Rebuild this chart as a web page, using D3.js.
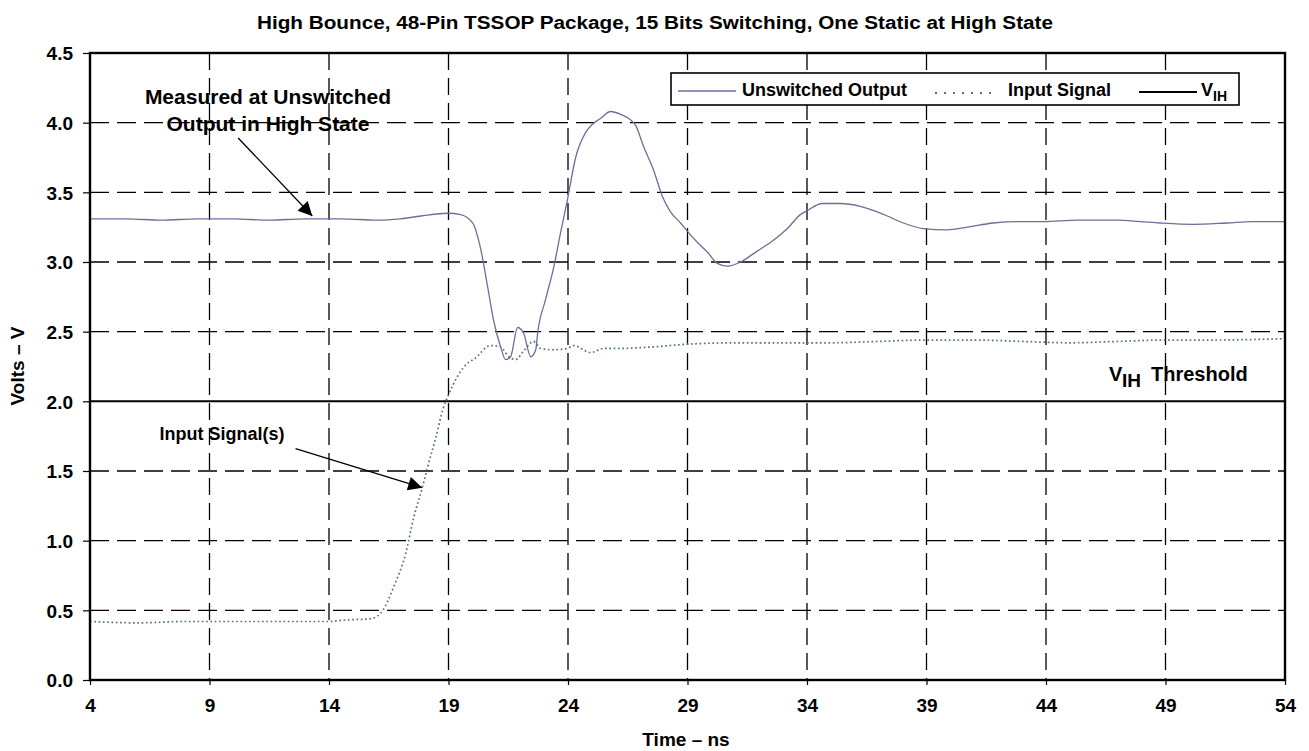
<!DOCTYPE html>
<html>
<head>
<meta charset="utf-8">
<script src="https://cdn.jsdelivr.net/npm/d3@7"></script>
<style>
  html, body { margin: 0; padding: 0; background: #fff; }
  text { font-family: "Liberation Sans", Arial, Helvetica, sans-serif; font-weight: bold; fill: #000; }
</style>
</head>
<body>
<svg id="chart" width="1309" height="751"></svg>
<script>
// ---- Data ----
const outputTimes = [4, 5.5, 7, 8.5, 10, 11.5, 13, 14.5, 16, 17, 17.84, 18.97, 19.51, 20.01, 20.35, 20.64, 20.89, 21.18, 21.39, 21.60, 21.89, 22.14, 22.44, 22.65, 22.73, 23.06, 23.40, 23.69, 23.98, 24.32, 24.74, 25.03, 25.36, 25.78, 26.20, 26.62, 26.83, 27.16, 27.58, 27.95, 28.29, 28.71, 29.00, 29.42, 29.84, 30.25, 30.67, 31.22, 31.93, 32.47, 33.18, 33.72, 34.02, 34.64, 35.40, 36.23, 36.94, 37.36, 38.03, 38.87, 39.87, 40.71, 41.79, 42.80, 43.88, 45.30, 46.98, 47.94, 48.77, 50.15, 51.58, 52.66, 54];
const outputVolts = [3.31, 3.31, 3.30, 3.31, 3.31, 3.30, 3.31, 3.31, 3.30, 3.31, 3.33, 3.35, 3.34, 3.28, 3.09, 2.82, 2.58, 2.39, 2.30, 2.32, 2.53, 2.49, 2.32, 2.37, 2.49, 2.73, 2.96, 3.21, 3.45, 3.75, 3.93, 3.99, 4.03, 4.08, 4.06, 4.02, 3.98, 3.83, 3.66, 3.47, 3.36, 3.28, 3.22, 3.14, 3.07, 2.99, 2.97, 3.00, 3.08, 3.14, 3.24, 3.34, 3.37, 3.42, 3.42, 3.40, 3.36, 3.33, 3.28, 3.24, 3.23, 3.25, 3.28, 3.29, 3.29, 3.30, 3.30, 3.29, 3.28, 3.27, 3.28, 3.29, 3.29];

const inputTimes = [4, 6, 8, 10, 12, 14, 14.62, 15.75, 16.25, 16.71, 17.21, 17.55, 17.92, 18.13, 18.47, 18.76, 19.01, 19.38, 19.84, 20.05, 20.76, 21.18, 21.52, 21.81, 22.14, 22.56, 22.85, 23.40, 23.98, 24.23, 24.95, 25.49, 26.20, 27.5, 29, 31, 33, 35, 37, 39, 41, 43, 45, 47, 49, 51, 54];
const inputVolts = [0.42, 0.41, 0.42, 0.42, 0.42, 0.42, 0.43, 0.44, 0.50, 0.67, 0.91, 1.17, 1.39, 1.53, 1.74, 1.94, 2.05, 2.18, 2.28, 2.30, 2.40, 2.39, 2.32, 2.30, 2.36, 2.43, 2.38, 2.37, 2.38, 2.40, 2.35, 2.38, 2.38, 2.39, 2.41, 2.42, 2.42, 2.42, 2.43, 2.44, 2.44, 2.43, 2.42, 2.43, 2.44, 2.44, 2.45];

const vihTimes = [4, 54];
const vihVolts = [2.0, 2.0];

const xTicks = [4, 9, 14, 19, 24, 29, 34, 39, 44, 49, 54];
const yTicks = [0, 0.5, 1.0, 1.5, 2.0, 2.5, 3.0, 3.5, 4.0, 4.5];

const titleText = "High Bounce, 48-Pin TSSOP Package, 15 Bits Switching, One Static at High State";
const xLabel = "Time – ns";
const yLabel = "Volts – V";
const legendNames = ["Unswitched Output", "Input Signal", "V"];

// ---- Layout ----
const L = 90, R = 1285, T = 53, B = 680;
const svg = d3.select("#chart");
const x = d3.scaleLinear().domain([4, 54]).range([L, R]);
const y = d3.scaleLinear().domain([0, 4.5]).range([B, T]);

const colOut = "#6e6e98", colIn = "#4e7e5e";

// grid
const grid = svg.append("g");
grid.selectAll("line.v").data(xTicks.slice(1, -1)).join("line")
  .attr("x1", d => x(d)).attr("x2", d => x(d)).attr("y1", T).attr("y2", B)
  .attr("stroke", "#000").attr("stroke-width", 1.3).attr("stroke-dasharray", "17,8");
grid.selectAll("line.h").data(yTicks.filter(d => d > 0 && d < 4.5 && d !== 2.0)).join("line")
  .attr("x1", L).attr("x2", R).attr("y1", d => y(d)).attr("y2", d => y(d))
  .attr("stroke", "#000").attr("stroke-width", 1.3).attr("stroke-dasharray", "19,8");

// axes
const fmt = d3.format(".1f");
const yAxis = svg.append("g").attr("transform", `translate(${L},0)`)
  .call(d3.axisLeft(y).tickValues(yTicks).tickFormat(fmt).tickSize(7).tickPadding(10));
const xAxis = svg.append("g").attr("transform", `translate(0,${B})`)
  .call(d3.axisBottom(x).tickValues(xTicks).tickFormat(d3.format("d")).tickSize(5).tickPadding(14));
[yAxis, xAxis].forEach(a => {
  a.select(".domain").remove();
  a.selectAll(".tick line").attr("stroke", "#000").attr("stroke-width", 1.2);
  a.selectAll(".tick text").style("font-size", "19px").style("font-family", '"Liberation Sans", Arial, sans-serif').style("font-weight", "bold");
});
yAxis.selectAll(".tick text").attr("dy", "0.36em");
xAxis.selectAll(".tick text").attr("dy", "0.71em");

// lines
const line = d3.line().x(d => x(d[0])).y(d => y(d[1])).curve(d3.curveMonotoneX);
svg.append("path").datum(d3.zip(vihTimes, vihVolts)).attr("d", d3.line().x(d => x(d[0])).y(d => y(d[1])))
  .attr("fill", "none").attr("stroke", "#000").attr("stroke-width", 2);
svg.append("path").datum(d3.zip(inputTimes, inputVolts)).attr("d", line)
  .attr("fill", "none").attr("stroke", colIn).attr("stroke-width", 1.7).attr("stroke-dasharray", "1.7,2.6");
svg.append("path").datum(d3.zip(outputTimes, outputVolts)).attr("d", line)
  .attr("fill", "none").attr("stroke", colOut).attr("stroke-width", 1.3);

// frame
svg.append("rect").attr("x", L).attr("y", T).attr("width", R - L).attr("height", B - T)
  .attr("fill", "none").attr("stroke", "#000").attr("stroke-width", 2.4);

// title and axis labels
svg.append("text").attr("x", 655).attr("y", 29).attr("text-anchor", "middle").style("font-size", "18px")
  .attr("textLength", 796).attr("lengthAdjust", "spacingAndGlyphs").text(titleText);
svg.append("text").attr("x", 686).attr("y", 746).attr("text-anchor", "middle").style("font-size", "19px").text(xLabel);
svg.append("text").attr("transform", "translate(24,366) rotate(-90)").attr("text-anchor", "middle").style("font-size", "19px").text(yLabel);

// legend
const lg = svg.append("g");
lg.append("rect").attr("x", 671).attr("y", 73).attr("width", 568).attr("height", 32)
  .attr("fill", "#fff").attr("stroke", "#000").attr("stroke-width", 1.6);
lg.append("line").attr("x1", 678).attr("x2", 736).attr("y1", 91).attr("y2", 91).attr("stroke", colOut).attr("stroke-width", 1.3);
lg.append("text").attr("x", 742).attr("y", 96).style("font-size", "18px").text(legendNames[0]);
lg.append("line").attr("x1", 935).attr("x2", 998).attr("y1", 93).attr("y2", 93).attr("stroke", colIn).attr("stroke-width", 2).attr("stroke-dasharray", "2,7");
lg.append("text").attr("x", 1008).attr("y", 96).style("font-size", "18px").text(legendNames[1]);
lg.append("line").attr("x1", 1139).attr("x2", 1197).attr("y1", 92).attr("y2", 92).attr("stroke", "#000").attr("stroke-width", 2.2);
const vt = lg.append("text").attr("x", 1201).attr("y", 96).style("font-size", "18px");
vt.append("tspan").text(legendNames[2]);
vt.append("tspan").attr("dy", 5).style("font-size", "14px").text("IH");

// annotations
svg.append("defs").append("marker").attr("id", "arr").attr("viewBox", "0 0 10 10")
  .attr("refX", 10).attr("refY", 5).attr("markerWidth", 20).attr("markerHeight", 14)
  .attr("markerUnits", "userSpaceOnUse").attr("orient", "auto")
  .append("path").attr("d", "M0,0 L10,5 L0,10 Z").attr("fill", "#000");

const a1 = svg.append("text").attr("text-anchor", "middle").style("font-size", "21px");
a1.append("tspan").attr("x", 268).attr("y", 104).text("Measured at Unswitched");
a1.append("tspan").attr("x", 268).attr("y", 131).text("Output in High State");
svg.append("line").attr("x1", x(10.2)).attr("y1", y(3.89)).attr("x2", x(13.3)).attr("y2", y(3.33))
  .attr("stroke", "#000").attr("stroke-width", 1.3).attr("marker-end", "url(#arr)");

svg.append("text").attr("x", 222).attr("y", 440).attr("text-anchor", "middle").style("font-size", "18px").text("Input Signal(s)");
svg.append("line").attr("x1", x(12.6)).attr("y1", y(1.66)).attr("x2", x(17.9)).attr("y2", y(1.38))
  .attr("stroke", "#000").attr("stroke-width", 1.3).attr("marker-end", "url(#arr)");

const th = svg.append("g");
th.append("text").attr("x", 1109).attr("y", 381).style("font-size", "20px").text("V");
th.append("text").attr("x", 1122).attr("y", 387).style("font-size", "19px").text("IH");
th.append("text").attr("x", 1151).attr("y", 381).style("font-size", "20px").text("Threshold");
</script>
</body>
</html>
